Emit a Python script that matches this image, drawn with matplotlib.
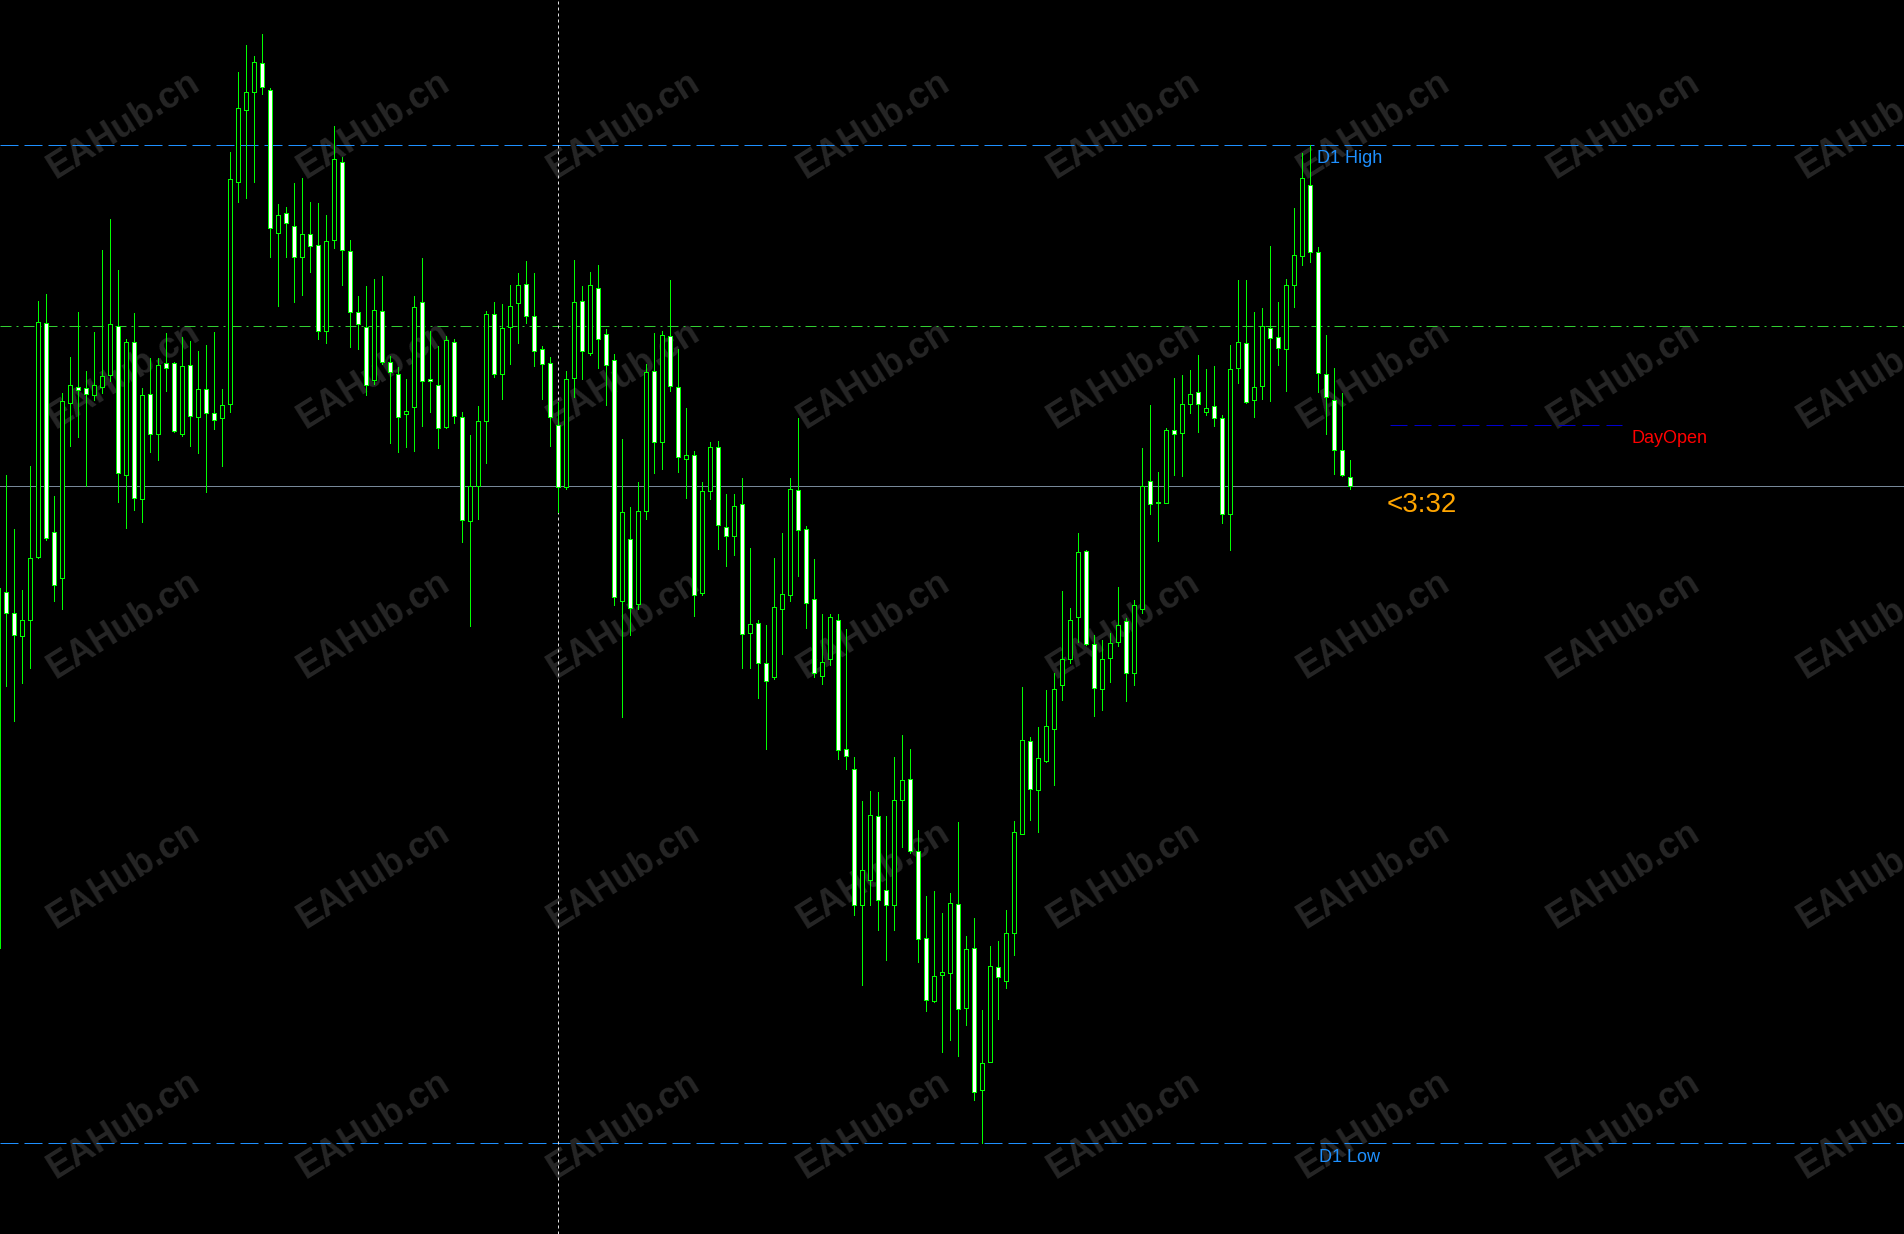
import matplotlib
matplotlib.use("Agg")
import matplotlib.pyplot as plt
import numpy as np

# ---------------- data (price in points above 1.08000, 1 point = 0.00001) ----------------
BASE = 1.08000
POINT = 1e-5

open_pts = [
    195, 551, 530, 507, 523, 586, 820, 611, 565, 740,
    756, 755, 748, 756, 768, 817, 668, 801, 644, 749,
    709, 780, 780, 709, 778, 726, 754, 730, 725, 739,
    961, 1033, 1051, 1080, 1053, 910, 930, 917, 886, 909,
    898, 812, 903, 981, 892, 831, 816, 763, 832, 781,
    769, 729, 736, 841, 764, 758, 716, 801, 726, 622,
    657, 722, 829, 769, 816, 840, 859, 827, 794, 780,
    718, 656, 765, 842, 790, 855, 809, 783, 542, 604,
    539, 632, 772, 701, 807, 756, 684, 688, 550, 652,
    696, 616, 607, 639, 510, 520, 480, 466, 534, 548,
    653, 614, 544, 467, 484, 523, 394, 374, 238, 263,
    327, 253, 238, 343, 364, 292, 205, 142, 168, 170,
    239, 135, 195, 53, 81, 176, 162, 210, 309, 402,
    353, 382, 414, 458, 484, 526, 592, 499, 454, 485,
    501, 522, 470, 534, 662, 641, 640, 713, 710, 739,
    751, 731, 737, 725, 629, 775, 800, 743, 757, 815,
    806, 794, 858, 887, 958, 891, 769, 743, 693, 666,
]
high_pts = [
    558, 668, 614, 553, 677, 842, 849, 647, 750, 786,
    831, 772, 811, 893, 924, 873, 804, 830, 755, 785,
    785, 810, 781, 806, 802, 792, 798, 811, 754, 991,
    1071, 1098, 1087, 1109, 1055, 939, 936, 960, 965, 941,
    940, 928, 1017, 986, 903, 847, 857, 864, 867, 787,
    776, 764, 847, 885, 812, 797, 807, 804, 731, 708,
    737, 832, 841, 839, 858, 870, 882, 870, 797, 786,
    741, 772, 883, 857, 871, 878, 814, 789, 704, 636,
    661, 779, 810, 812, 863, 794, 735, 692, 661, 701,
    702, 649, 649, 665, 595, 523, 518, 585, 610, 665,
    725, 617, 584, 529, 529, 529, 514, 386, 342, 352,
    351, 327, 386, 408, 394, 313, 247, 252, 230, 250,
    321, 207, 225, 133, 197, 202, 233, 322, 456, 406,
    416, 453, 470, 552, 535, 610, 593, 508, 503, 510,
    556, 525, 543, 695, 738, 671, 715, 765, 768, 773,
    788, 774, 777, 728, 798, 863, 863, 831, 835, 897,
    841, 864, 935, 990, 998, 896, 808, 775, 750, 683,
]
low_pts = [
    193, 457, 422, 460, 475, 585, 603, 542, 534, 697,
    706, 657, 743, 750, 762, 641, 615, 633, 621, 691,
    683, 752, 711, 707, 697, 690, 651, 714, 677, 731,
    941, 945, 961, 1049, 886, 837, 886, 841, 848, 871,
    804, 800, 895, 858, 796, 794, 748, 759, 779, 700,
    691, 696, 692, 717, 731, 695, 715, 720, 601, 517,
    624, 680, 766, 744, 779, 800, 820, 777, 744, 697,
    631, 654, 746, 764, 788, 775, 738, 538, 426, 508,
    534, 624, 670, 674, 752, 671, 645, 527, 548, 644,
    594, 577, 588, 475, 475, 445, 394, 464, 489, 542,
    567, 515, 466, 459, 478, 384, 374, 228, 158, 238,
    213, 183, 213, 296, 290, 181, 132, 141, 91, 103,
    87, 118, 43, 0, 81, 124, 155, 188, 309, 323,
    311, 381, 358, 443, 480, 501, 498, 427, 433, 461,
    497, 442, 458, 530, 629, 602, 640, 668, 667, 730,
    711, 728, 717, 620, 593, 760, 740, 726, 744, 742,
    778, 752, 836, 878, 881, 751, 709, 669, 667, 654,
]
close_pts = [
    555, 530, 508, 523, 585, 821, 605, 558, 742, 758,
    753, 749, 758, 767, 819, 670, 801, 645, 748, 709,
    778, 775, 712, 777, 727, 754, 730, 723, 738, 964,
    1035, 1051, 1081, 1056, 915, 928, 920, 886, 909, 897,
    812, 902, 984, 893, 831, 819, 758, 833, 781, 771,
    726, 732, 836, 762, 762, 715, 803, 727, 623, 657,
    722, 829, 769, 815, 837, 858, 827, 792, 779, 726,
    656, 764, 841, 792, 858, 804, 778, 546, 631, 535,
    632, 771, 701, 808, 757, 686, 688, 548, 652, 696,
    618, 607, 637, 509, 519, 480, 462, 536, 549, 654,
    613, 540, 470, 481, 526, 393, 387, 238, 273, 328,
    243, 238, 343, 363, 292, 204, 143, 167, 171, 240,
    134, 194, 51, 80, 177, 166, 210, 311, 403, 354,
    385, 417, 454, 484, 523, 591, 499, 455, 484, 500,
    518, 470, 538, 657, 639, 640, 713, 709, 739, 749,
    739, 735, 725, 629, 774, 801, 741, 756, 817, 805,
    795, 858, 888, 965, 891, 770, 746, 693, 668, 657,
]

d1_high_pts = 998
d1_low_pts = 0
level_pts = 817          # green dash-dot level
day_open_pts = 718
day_open_span = (174, 203)   # bar indices covered by the DayOpen segment
separator_bar = 70           # vertical dotted separator
timer_text = "<3:32"

# ---------------- conversion ----------------
o = BASE + np.array(open_pts) * POINT
h = BASE + np.array(high_pts) * POINT
l = BASE + np.array(low_pts) * POINT
c = BASE + np.array(close_pts) * POINT
x = np.arange(len(o))

def px(v):
    return BASE + v * POINT

# ---------------- figure ----------------
W, H = 1904, 1234
fig = plt.figure(figsize=(W / 100, H / 100), dpi=100, facecolor="black")
ax = fig.add_axes([0, 0, 1, 1])
ax.set_facecolor("black")
ax.set_axis_off()
ax.set_xlim(0.2125, 238.2125)
ax.set_ylim(px(-91), px(1143))

LIME = "#00FF00"
LW = 0.72  # one pixel

# watermark
for r in range(5):
    for cc in range(8):
        cx = 124 + 250 * cc
        cy = 125 + 250 * r
        ax.text(cx / W, 1 - cy / H, "EAHub.cn", transform=ax.transAxes,
                fontsize=26, fontweight="bold", family="Liberation Sans",
                color="#262626", rotation=32, rotation_mode="anchor",
                ha="center", va="center", zorder=1)

# level lines
ax.axhline(px(d1_high_pts), color="#1E90FF", lw=LW, dashes=(18, 6), zorder=1.5)
ax.axhline(px(d1_low_pts), color="#1E90FF", lw=LW, dashes=(18, 6), zorder=1.5)
ax.axhline(px(level_pts), color="#32CD32", lw=LW, dashes=(11, 5, 2, 5), zorder=1.5)
ax.axhline(c[-1], color="#778899", lw=LW, zorder=1.5)
ax.axvline(separator_bar, color="#E0E0E0", lw=LW, dashes=(3, 3), zorder=1.5)
ax.hlines(px(day_open_pts), day_open_span[0], day_open_span[1],
          color="#0000CD", lw=LW, linestyles=(0, (17, 7)), zorder=1.5)

# candles
ax.vlines(x, l, h, color=LIME, lw=LW, zorder=2, antialiased=False)
bull = c >= o
bottom = np.minimum(o, c)
height = np.abs(c - o)
face = np.where(bull, "black", "white")
ax.bar(x, height, bottom=bottom, width=0.5, color=list(face),
       edgecolor=LIME, linewidth=LW, zorder=3, antialiased=False)

# labels
ax.text(164.85, px(d1_high_pts - 18), "D1 High", color="#1E90FF", fontsize=13,
        family="Liberation Sans", ha="left", va="baseline", zorder=4)
ax.text(165.1, px(d1_low_pts - 19), "D1 Low", color="#1E90FF", fontsize=13,
        family="Liberation Sans", ha="left", va="baseline", zorder=4)
ax.text(204.1, px(day_open_pts - 18), "DayOpen", color="#FF0000", fontsize=13,
        family="Liberation Sans", ha="left", va="baseline", zorder=4)
ax.text(173.5, px(close_pts[-1] - 26), timer_text, color="#FFA500", fontsize=20,
        family="Liberation Sans", ha="left", va="baseline", zorder=4)

fig.savefig("out.png", dpi=100, facecolor="black")
